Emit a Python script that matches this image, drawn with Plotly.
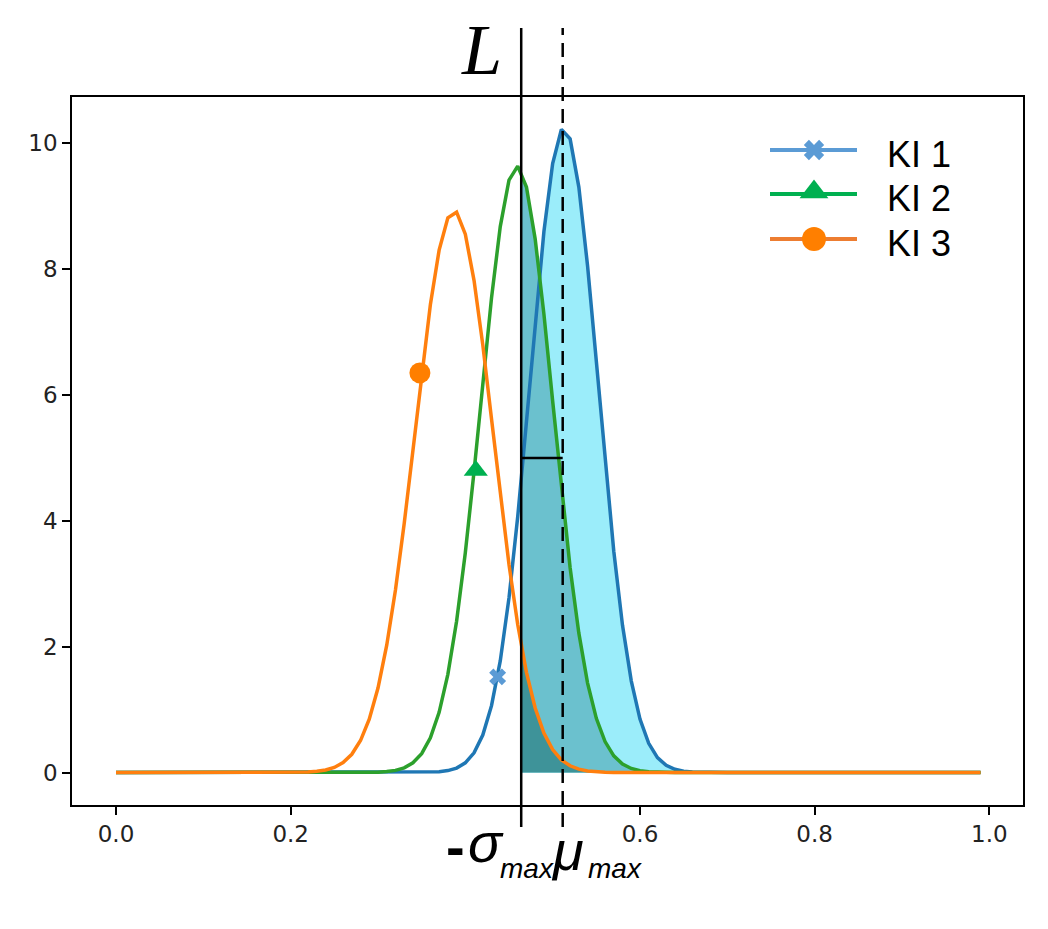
import plotly.graph_objects as go

# ---------------- data ----------------
x_vals = [
    0.00, 0.01, 0.02, 0.03, 0.04, 0.05, 0.06, 0.07, 0.08, 0.09,
    0.10, 0.11, 0.12, 0.13, 0.14, 0.15, 0.16, 0.17, 0.18, 0.19,
    0.20, 0.21, 0.22, 0.23, 0.24, 0.25, 0.26, 0.27, 0.28, 0.29,
    0.30, 0.31, 0.32, 0.33, 0.34, 0.35, 0.36, 0.37, 0.38, 0.39,
    0.40, 0.41, 0.42, 0.43, 0.44, 0.45, 0.46, 0.47, 0.48, 0.49,
    0.50, 0.51, 0.52, 0.53, 0.54, 0.55, 0.56, 0.57, 0.58, 0.59,
    0.60, 0.61, 0.62, 0.63, 0.64, 0.65, 0.66, 0.67, 0.68, 0.69,
    0.70, 0.71, 0.72, 0.73, 0.74, 0.75, 0.76, 0.77, 0.78, 0.79,
    0.80, 0.81, 0.82, 0.83, 0.84, 0.85, 0.86, 0.87, 0.88, 0.89,
    0.90, 0.91, 0.92, 0.93, 0.94, 0.95, 0.96, 0.97, 0.98, 0.99,
]

ki1 = [
    0, 0, 0, 0, 0, 0, 0, 0, 0, 0,
    0, 0, 0, 0, 0, 0, 0, 0, 0, 0,
    0, 0, 0, 0, 0, 0, 0, 0, 0, 0,
    0, 0, 0, 0, 0, 0, 0.005, 0.012, 0.031, 0.071,
    0.154, 0.313, 0.596, 1.062, 1.774, 2.775, 4.064, 5.570, 7.152, 8.597,
    9.677, 10.22, 10.07, 9.303, 8.050, 6.523, 4.949, 3.516, 2.339, 1.457,
    0.850, 0.464, 0.237, 0.114, 0.051, 0.021, 0.008, 0.003, 0.001, 0,
    0, 0, 0, 0, 0, 0, 0, 0, 0, 0,
    0, 0, 0, 0, 0, 0, 0, 0, 0, 0,
    0, 0, 0, 0, 0, 0, 0, 0, 0, 0,
]

ki2 = [
    0, 0, 0, 0, 0, 0, 0, 0, 0, 0,
    0, 0, 0, 0, 0, 0, 0, 0, 0, 0,
    0, 0, 0, 0, 0, 0, 0, 0, 0, 0,
    0.006, 0.015, 0.034, 0.075, 0.155, 0.301, 0.552, 0.956, 1.561, 2.404,
    3.493, 4.785, 6.186, 7.543, 8.676, 9.414, 9.637, 9.305, 8.477, 7.284,
    5.904, 4.513, 3.255, 2.215, 1.422, 0.861, 0.492, 0.265, 0.135, 0.065,
    0.029, 0.013, 0.005, 0.002, 0, 0, 0, 0, 0, 0,
    0, 0, 0, 0, 0, 0, 0, 0, 0, 0,
    0, 0, 0, 0, 0, 0, 0, 0, 0, 0,
    0, 0, 0, 0, 0, 0, 0, 0, 0, 0,
]

ki3 = [
    0, 0, 0, 0, 0, 0, 0, 0, 0, 0,
    0, 0, 0, 0, 0, 0, 0, 0, 0, 0,
    0, 0, 0.008, 0.019, 0.040, 0.081, 0.158, 0.290, 0.508, 0.847,
    1.343, 2.024, 2.902, 3.958, 5.135, 6.336, 7.437, 8.302, 8.816, 8.905,
    8.556, 7.818, 6.796, 5.618, 4.419, 3.306, 2.352, 1.592, 1.025, 0.627,
    0.365, 0.202, 0.107, 0.054, 0.026, 0.012, 0.005, 0.002, 0, 0,
    0, 0, 0, 0, 0, 0, 0, 0, 0, 0,
    0, 0, 0, 0, 0, 0, 0, 0, 0, 0,
    0, 0, 0, 0, 0, 0, 0, 0, 0, 0,
    0, 0, 0, 0, 0, 0, 0, 0, 0, 0,
]

series_names = ["KI 1", "KI 2", "KI 3"]
# value of each curve exactly at the L line (start of the shaded part)
value_at_L = [4.66, 9.50, 2.05]
# single highlighted marker on each curve
marker_x = [0.437, 0.412, 0.348]
marker_y = [1.52, 4.80, 6.35]

L_pos = 0.464        # L = mu_max - sigma_max
mu_max = 0.5115
bracket_y = 5.0

x_ticks = [0.0, 0.2, 0.6, 0.8, 1.0]
x_tick_text = ["0.0", "0.2", "0.6", "0.8", "1.0"]
y_ticks = [0, 2, 4, 6, 8, 10]
y_tick_text = ["0", "2", "4", "6", "8", "10"]

# ---------------- styling ----------------
W, H = 1048, 929
ML, MR, MT, MB = 72, 25, 97, 124
XR = [-0.0504, 1.0386]
YR = [-0.516, 10.735]

line_colors = ["#1f77b4", "#2ca02c", "#ff7f0e"]
fill_colors = ["#9BEDFA", "#6BC1CE", "#3E9399"]
mark_colors = ["#5B9BD5", "#00B050", "#FF7F00"]
leg_line_colors = ["#5B9BD5", "#00B050", "#ED7D31"]
mark_symbols = ["x", "triangle-up", "circle"]
mark_sizes = [15, 21, 21]
leg_mark_sizes = [18, 25, 24]


def px2x(px):
    return XR[0] + (px - ML) / (W - ML - MR) * (XR[1] - XR[0])


def px2y(py):
    return YR[1] - (py - MT) / (H - MT - MB) * (YR[1] - YR[0])


def pxx(px):
    return (px - ML) / (W - ML - MR)


def pxy(py):
    return (H - MB - py) / (H - MT - MB)


fig = go.Figure()

# shaded areas right of L (drawn first, under the curves)
for ys, yl, fc in zip([ki1, ki2, ki3], value_at_L, fill_colors):
    fx = [L_pos] + [xv for xv in x_vals if xv > L_pos]
    fy = [yl] + [yv for xv, yv in zip(x_vals, ys) if xv > L_pos]
    fig.add_trace(go.Scatter(x=fx, y=fy, mode="lines", fill="tozeroy",
                             fillcolor=fc, line=dict(width=0, color=fc),
                             showlegend=False, hoverinfo="skip"))

# curves
for ys, lc, nm in zip([ki1, ki2, ki3], line_colors, series_names):
    fig.add_trace(go.Scatter(x=x_vals, y=ys, mode="lines", name=nm,
                             line=dict(color=lc, width=3.5), showlegend=False))

# single markers on curves
for mx, my, mc, ms, sz in zip(marker_x, marker_y, mark_colors, mark_symbols, mark_sizes):
    fig.add_trace(go.Scatter(x=[mx], y=[my], mode="markers",
                             marker=dict(symbol=ms, color=mc, size=sz, line=dict(width=0)),
                             showlegend=False))

# custom legend (long lines with marker in the middle)
leg_rows_px = [150, 194, 239]
leg_x0, leg_x1, leg_xm = 770, 857, 814
for i, (py, lc, mc, ms, sz, nm) in enumerate(zip(leg_rows_px, leg_line_colors, mark_colors,
                                                  mark_symbols, leg_mark_sizes, series_names)):
    fig.add_trace(go.Scatter(x=[px2x(leg_x0), px2x(leg_x1)], y=[px2y(py), px2y(py)],
                             mode="lines", line=dict(color=lc, width=4),
                             showlegend=False, hoverinfo="skip", cliponaxis=False))
    fig.add_trace(go.Scatter(x=[px2x(leg_xm)], y=[px2y(py - (2 if ms == "triangle-up" else 0))],
                             mode="markers",
                             marker=dict(symbol=ms, color=mc, size=sz, line=dict(width=0)),
                             showlegend=False, hoverinfo="skip", cliponaxis=False))
    fig.add_annotation(x=pxx(885), y=pxy(py + 4), xref="paper", yref="paper",
                       text=nm, showarrow=False, xanchor="left", yanchor="middle",
                       font=dict(family="Liberation Sans, Arial", size=36, color="black"))

# vertical lines L and mu_max, plus bracket
fig.add_shape(type="line", xref="x", yref="paper", x0=L_pos, x1=L_pos,
              y0=pxy(827), y1=pxy(28), line=dict(color="black", width=2.5))
fig.add_shape(type="line", xref="x", yref="paper", x0=mu_max, x1=mu_max,
              y0=pxy(827), y1=pxy(28), line=dict(color="black", width=2.5, dash="14px,8px"))
fig.add_shape(type="line", xref="x", yref="y", x0=L_pos, x1=mu_max,
              y0=bracket_y, y1=bracket_y, line=dict(color="black", width=2.5))

# text labels
fig.add_annotation(x=pxx(481), y=pxy(50), xref="paper", yref="paper", text="<i>L</i>",
                   showarrow=False, xanchor="center", yanchor="middle",
                   font=dict(family="Liberation Serif, Times New Roman", size=72, color="black"))

bottom_parts = [
    ("<b>-</b>", 455, 846, 56),
    ("<i>σ</i>", 486, 842, 56),
    ("<i>max</i>", 527, 868, 28),
    ("<i>μ</i>", 567, 850, 56),
    ("<i>max</i>", 615, 868, 28),
]
for txt, bx, by, fs in bottom_parts:
    fig.add_annotation(x=pxx(bx), y=pxy(by), xref="paper", yref="paper", text=txt,
                       showarrow=False, xanchor="center", yanchor="middle",
                       font=dict(family="Liberation Sans, Arial", size=fs, color="black"))

fig.update_layout(
    width=W, height=H,
    margin=dict(l=ML, r=MR, t=MT, b=MB, pad=0),
    paper_bgcolor="white", plot_bgcolor="white",
    showlegend=False,
    xaxis=dict(range=XR, tickvals=x_ticks, ticktext=x_tick_text,
               showgrid=False, zeroline=False, showline=True, mirror=True,
               linecolor="black", linewidth=1.5, ticks="outside", ticklen=8,
               tickwidth=1.5, tickcolor="black",
               tickfont=dict(family="DejaVu Sans", size=23, color="#222222")),
    yaxis=dict(range=YR, tickvals=y_ticks, ticktext=y_tick_text,
               showgrid=False, zeroline=False, showline=True, mirror=True,
               linecolor="black", linewidth=1.5, ticks="outside", ticklen=8,
               tickwidth=1.5, tickcolor="black",
               tickfont=dict(family="DejaVu Sans", size=23, color="#222222")),
)

fig.write_html("out.html")
